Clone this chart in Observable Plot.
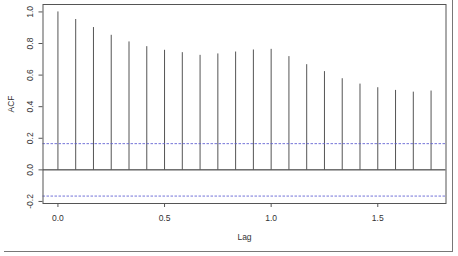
<!DOCTYPE html>
<html>
<head>
<meta charset="utf-8">
<script src="https://cdn.jsdelivr.net/npm/d3@7"></script>
<script src="https://cdn.jsdelivr.net/npm/@observablehq/plot@0.6"></script>
<style>
  html, body { margin: 0; padding: 0; background: #fff; }
  #wrap { position: relative; width: 458px; height: 256px; overflow: hidden; }
  #frame { position: absolute; left: 4px; top: -2px; width: 449px; height: 254px; box-sizing: border-box;
           border-right: 1.5px solid #777; border-bottom: 1.5px solid #777; pointer-events: none; }
</style>
</head>
<body>
<div id="wrap"><div id="frame"></div></div>
<script>
// ACF values at lags 0..21 (monthly series, lag in years)
const lags = d3.range(22).map(i => i / 12);
const acf = [1.000, 0.952, 0.901, 0.852, 0.810, 0.780, 0.757, 0.742, 0.725, 0.734, 0.746,
             0.759, 0.763, 0.717, 0.666, 0.622, 0.577, 0.543, 0.520, 0.503, 0.492, 0.499];
const ciBound = 0.166;
const yTicks = [-0.2, 0.0, 0.2, 0.4, 0.6, 0.8, 1.0];
const xTicks = [0.0, 0.5, 1.0, 1.5];
const xLabel = "Lag";
const yLabel = "ACF";

const data = lags.map((lag, i) => ({lag, acf: acf[i]}));
const font = "Liberation Sans, Arial, sans-serif";
const textColor = "#333";

const chart = Plot.plot({
  width: 458,
  height: 256,
  marginLeft: 42.5,
  marginRight: 12.5,
  marginTop: 4,
  marginBottom: 53,
  style: {fontFamily: font, fontSize: "8.5px", color: textColor, background: "transparent"},
  x: {domain: [-0.07, 1.82]},
  y: {domain: [-0.213, 1.047]},
  marks: [
    Plot.ruleX(data, {x: "lag", y1: 0, y2: "acf", stroke: "#555", strokeWidth: 1}),
    Plot.ruleY([0], {stroke: "#222", strokeWidth: 1}),
    Plot.ruleY([ciBound, -ciBound], {stroke: "#5a5ad0", strokeWidth: 1, strokeDasharray: "2.5,1.5", strokeOpacity: 0.85}),
    Plot.frame({stroke: "#555", strokeWidth: 1}),
    Plot.axisY({ticks: yTicks, tickSize: 4, tickFormat: () => "", stroke: "#555", label: null}),
    Plot.axisX({ticks: xTicks, tickSize: 4, tickFormat: () => "", stroke: "#555", label: null}),
    Plot.text(yTicks, {y: d => d, text: d => d.toFixed(1), frameAnchor: "left", dx: -12.5,
      rotate: -90, textAnchor: "middle", lineAnchor: "middle", fill: textColor}),
    Plot.text(xTicks, {x: d => d, text: d => d.toFixed(1), frameAnchor: "bottom", dy: 14.7,
      textAnchor: "middle", lineAnchor: "middle", fill: textColor}),
    Plot.text([xLabel], {text: d => d, frameAnchor: "bottom", dy: 34, lineAnchor: "middle", fill: textColor}),
    Plot.text([yLabel], {text: d => d, frameAnchor: "left", dx: -32, rotate: -90,
      textAnchor: "middle", lineAnchor: "middle", fill: textColor})
  ]
});
document.getElementById("wrap").prepend(chart);
</script>
</body>
</html>
